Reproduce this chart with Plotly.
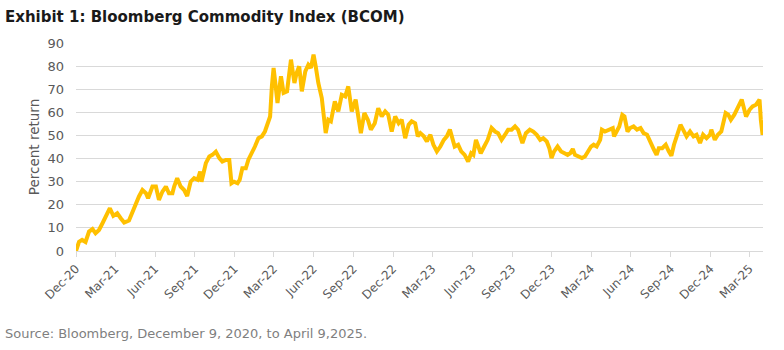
import plotly.graph_objects as go

dates = [
    "2020-12-09", "2020-12-16", "2020-12-23", "2020-12-31", "2021-01-08", "2021-01-16",
    "2021-01-23", "2021-01-31", "2021-02-08", "2021-02-15", "2021-02-25", "2021-03-05",
    "2021-03-14", "2021-03-22", "2021-03-30", "2021-04-10", "2021-04-18", "2021-04-26",
    "2021-05-03", "2021-05-11", "2021-05-19", "2021-05-24", "2021-06-03", "2021-06-11",
    "2021-06-18", "2021-06-26", "2021-07-04", "2021-07-11", "2021-07-19", "2021-07-23",
    "2021-07-30", "2021-08-07", "2021-08-15", "2021-08-22", "2021-08-30", "2021-09-07",
    "2021-09-15", "2021-09-21", "2021-09-24", "2021-10-04", "2021-10-12", "2021-10-19",
    "2021-10-27", "2021-11-04", "2021-11-11", "2021-11-19", "2021-11-27", "2021-12-02",
    "2021-12-08", "2021-12-16", "2021-12-21", "2021-12-27", "2022-01-04", "2022-01-10",
    "2022-01-18", "2022-01-25", "2022-02-02", "2022-02-10", "2022-02-17", "2022-02-25",
    "2022-03-01", "2022-03-05", "2022-03-09", "2022-03-13", "2022-03-18", "2022-03-26",
    "2022-04-01", "2022-04-09", "2022-04-18", "2022-04-26", "2022-05-01", "2022-05-07",
    "2022-05-13", "2022-05-21", "2022-05-28", "2022-06-03", "2022-06-09", "2022-06-14",
    "2022-06-20", "2022-06-28", "2022-07-03", "2022-07-07", "2022-07-13", "2022-07-19",
    "2022-07-28", "2022-08-05", "2022-08-13", "2022-08-21", "2022-08-28", "2022-09-05",
    "2022-09-14", "2022-09-20", "2022-09-26", "2022-10-04", "2022-10-12", "2022-10-19",
    "2022-10-28", "2022-11-05", "2022-11-13", "2022-11-21", "2022-11-28", "2022-12-06",
    "2022-12-14", "2022-12-22", "2022-12-29", "2023-01-06", "2023-01-14", "2023-01-21",
    "2023-01-29", "2023-02-04", "2023-02-10", "2023-02-18", "2023-02-25", "2023-03-05",
    "2023-03-12", "2023-03-20", "2023-03-28", "2023-04-05", "2023-04-12", "2023-04-19",
    "2023-04-24", "2023-04-30", "2023-05-08", "2023-05-15", "2023-05-23", "2023-05-31",
    "2023-06-07", "2023-06-12", "2023-06-18", "2023-06-23", "2023-06-29", "2023-07-07",
    "2023-07-15", "2023-07-24", "2023-08-01", "2023-08-08", "2023-08-16", "2023-08-24",
    "2023-08-31", "2023-09-08", "2023-09-16", "2023-09-23", "2023-09-29", "2023-10-03",
    "2023-10-11", "2023-10-20", "2023-10-28", "2023-11-05", "2023-11-13", "2023-11-20",
    "2023-11-28", "2023-12-04", "2023-12-09", "2023-12-15", "2023-12-23", "2023-12-31",
    "2024-01-08", "2024-01-15", "2024-01-21", "2024-01-27", "2024-02-01", "2024-02-09",
    "2024-02-17", "2024-02-24", "2024-03-03", "2024-03-09", "2024-03-15", "2024-03-22",
    "2024-03-30", "2024-04-03", "2024-04-10", "2024-04-20", "2024-04-28", "2024-05-01",
    "2024-05-07", "2024-05-13", "2024-05-20", "2024-05-25", "2024-06-01", "2024-06-07",
    "2024-06-15", "2024-06-23", "2024-07-01", "2024-07-08", "2024-07-16", "2024-07-24",
    "2024-08-01", "2024-08-07", "2024-08-12", "2024-08-20", "2024-08-28", "2024-09-04",
    "2024-09-10", "2024-09-16", "2024-09-24", "2024-10-01", "2024-10-07", "2024-10-15",
    "2024-10-23", "2024-10-31", "2024-11-07", "2024-11-15", "2024-11-22", "2024-11-30",
    "2024-12-08", "2024-12-11", "2024-12-19", "2024-12-26", "2025-01-03", "2025-01-09",
    "2025-01-13", "2025-01-19", "2025-01-25", "2025-02-02", "2025-02-10", "2025-02-19",
    "2025-02-25", "2025-03-01", "2025-03-09", "2025-03-16", "2025-03-24", "2025-04-01",
    "2025-04-04", "2025-04-08", "2025-04-09",
]

percent_return = [
    0.0, 4.0, 4.8, 3.9, 8.4, 9.5,
    7.7, 9.1, 12.0, 14.9, 18.5, 15.2,
    16.3, 14.2, 12.3, 13.2, 17.0, 20.7,
    23.6, 26.4, 25.0, 22.8, 27.9, 27.9,
    22.1, 25.7, 27.9, 25.0, 25.0, 27.9,
    31.5, 27.9, 26.4, 23.8, 30.0, 31.5,
    30.8, 34.4, 30.0, 38.0, 40.9, 41.6,
    43.0, 40.2, 38.7, 39.4, 39.4, 29.3,
    30.0, 29.3, 30.8, 35.8, 35.8, 39.5,
    42.3, 45.2, 48.8, 49.6, 51.7, 55.3,
    58.2, 71.2, 79.2, 72.7, 64.0, 75.6,
    68.4, 69.1, 82.8, 72.7, 77.0, 79.9,
    69.1, 77.7, 80.6, 79.2, 85.0, 79.9,
    72.7, 66.2, 58.2, 51.0, 56.8, 56.1,
    64.7, 60.4, 67.6, 66.9, 71.2, 60.4,
    65.5, 56.8, 51.0, 59.7, 56.8, 52.5,
    55.3, 61.8, 58.2, 60.4, 59.0, 51.7,
    58.2, 55.3, 56.8, 48.8, 54.6, 56.1,
    55.3, 49.6, 51.0, 49.6, 47.4, 50.3,
    46.0, 43.1, 45.2, 48.1, 49.6, 52.5,
    48.8, 45.2, 46.0, 43.1, 41.6, 38.7,
    42.3, 41.6, 48.1, 45.2, 42.3, 45.2,
    48.1, 53.2, 51.7, 51.0, 48.1, 50.3,
    52.5, 52.5, 53.9, 52.5, 49.6, 46.7,
    51.0, 52.5, 51.7, 50.3, 48.1, 48.8,
    47.4, 44.5, 40.2, 43.1, 45.2, 43.1,
    42.3, 41.6, 42.3, 44.1, 41.6, 40.9,
    40.2, 40.9, 43.1, 45.2, 46.0, 45.2,
    48.1, 52.5, 51.7, 52.5, 53.2, 49.6,
    51.7, 53.9, 58.9, 58.2, 51.7, 53.2,
    53.9, 52.5, 53.2, 51.0, 50.3, 46.7,
    43.8, 41.6, 44.5, 44.5, 46.0, 43.1,
    41.2, 46.0, 51.0, 54.6, 52.5, 49.6,
    51.7, 49.6, 50.3, 46.7, 50.3, 48.8,
    50.3, 52.5, 48.1, 50.3, 51.7, 56.1,
    59.7, 59.0, 56.8, 59.0, 61.8, 65.5,
    61.1, 58.2, 61.1, 62.6, 63.3, 65.5,
    56.8, 50.3, 53.0,
]

tick_dates = [
    "2020-12-09", "2021-03-09", "2021-06-09", "2021-09-09", "2021-12-09",
    "2022-03-09", "2022-06-09", "2022-09-09", "2022-12-09", "2023-03-09",
    "2023-06-09", "2023-09-09", "2023-12-09", "2024-03-09", "2024-06-09",
    "2024-09-09", "2024-12-09", "2025-03-09",
]
tick_labels = [
    "Dec-20", "Mar-21", "Jun-21", "Sep-21", "Dec-21", "Mar-22", "Jun-22",
    "Sep-22", "Dec-22", "Mar-23", "Jun-23", "Sep-23", "Dec-23", "Mar-24",
    "Jun-24", "Sep-24", "Dec-24", "Mar-25",
]

FONT = "DejaVu Sans"
GRAY = "#595959"
GRID = "#D9D9D9"

fig = go.Figure()
fig.add_trace(go.Scatter(
    x=dates, y=percent_return, mode="lines",
    line=dict(color="#FFC000", width=4),
    showlegend=False, hoverinfo="skip",
))

fig.update_layout(
    width=784, height=350,
    margin=dict(l=76, r=21, t=43, b=99),
    paper_bgcolor="white", plot_bgcolor="white",
    font=dict(family=FONT, color=GRAY, size=12),
    xaxis=dict(
        type="date",
        range=["2020-12-09", "2025-04-09"],
        tickvals=tick_dates, ticktext=tick_labels,
        tickangle=-45, tickfont=dict(size=12, color=GRAY),
        showgrid=False, zeroline=False,
        showline=False,
        ticks="outside", ticklen=5, tickcolor=GRID, tickwidth=1,
    ),
    yaxis=dict(
        range=[0, 90], tickvals=[0, 10, 20, 30, 40, 50, 60, 70, 80, 90],
        showgrid=True, gridcolor=GRID, gridwidth=1,
        zeroline=True, zerolinecolor=GRID, zerolinewidth=1,
        showline=False, ticks="", tickfont=dict(size=13, color=GRAY),
        ticklabelstandoff=11,
        title=dict(text="Percent return", font=dict(size=13.5, color=GRAY), standoff=4),
    ),
    annotations=[
        dict(text="<b>Exhibit 1: Bloomberg Commodity Index (BCOM)</b>",
             xref="paper", yref="paper", x=0, y=1, xanchor="left", yanchor="middle",
             xshift=-73, yshift=26, showarrow=False,
             font=dict(family=FONT, size=15, color="#1a1a1a")),
        dict(text="Source: Bloomberg, December 9, 2020, to April 9,2025.",
             xref="paper", yref="paper", x=0, y=0, xanchor="left", yanchor="middle",
             xshift=-73, yshift=-82, showarrow=False,
             font=dict(family=FONT, size=13, color="#7f7f7f")),
    ],
)

fig.write_html("out.html")
